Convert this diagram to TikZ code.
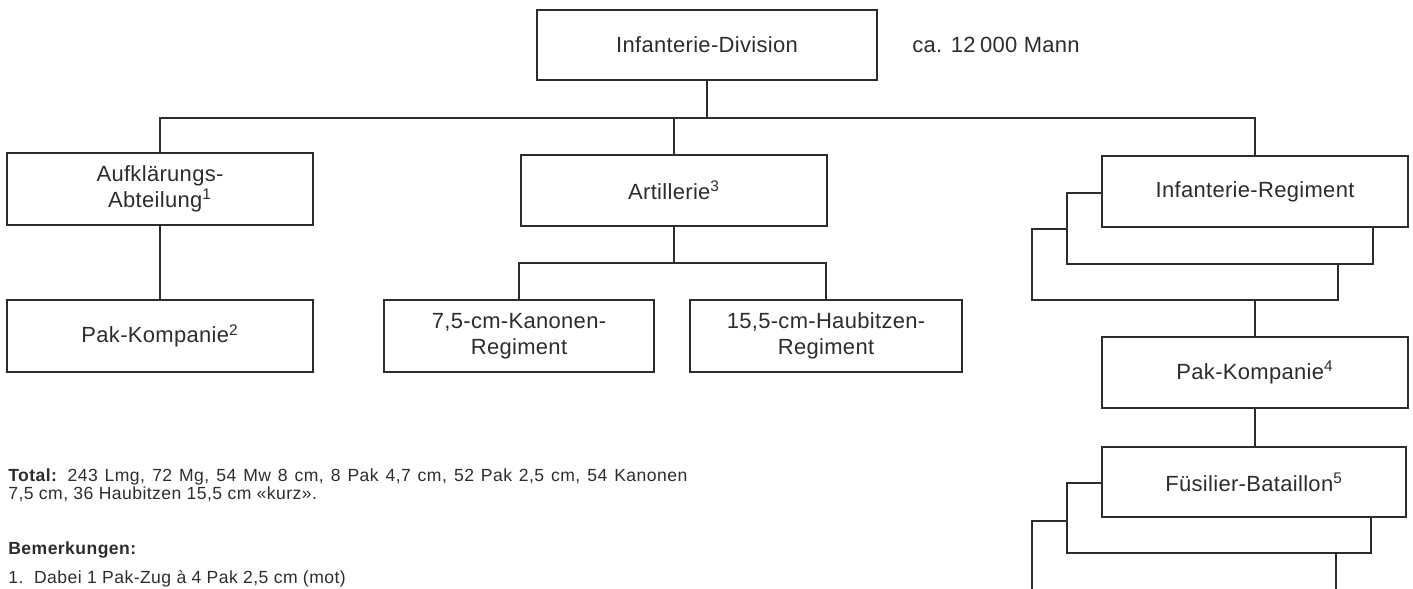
\documentclass[tikz,border=0pt]{standalone}
\usepackage{fontspec}
\setmainfont{Liberation Sans}
\definecolor{ink}{RGB}{45,45,45}
\newcommand{\boxfont}{\fontsize{12.5}{14.6}\selectfont\addfontfeature{LetterSpace=1.5}}
\newcommand{\remfont}{\fontsize{10}{10.4}\selectfont\addfontfeature{LetterSpace=2.5}}

\begin{document}
\begin{tikzpicture}[
    box/.style={draw=ink, line width=1.1pt, fill=white, text=ink, minimum width=6.12cm, minimum height=1.42cm, align=center, inner sep=0pt, font=\boxfont},
    link/.style={draw=ink, line width=1.1pt},
    rem/.style={font=\remfont, text=ink, inner sep=0pt},
]
\useasboundingbox (0,0) rectangle (28.26,11.78);

\node[box, minimum width=6.8cm, minimum height=1.4cm] (div) at (14.14, 10.88) {Infanterie-Division};
\node[rem, font=\boxfont, anchor=west] (mann) at (18.24, 10.88) {ca. 12\hspace{0.2em}000 Mann};

\node[box, minimum height=1.44cm] (aufkl) at ( 3.20, 8.00) {Aufklärungs-\\Abteilung\textsuperscript{1}};
\node[box] (art)  at (13.48, 7.97) {Artillerie\textsuperscript{3}};
\node[box, minimum height=1.44cm] (pak)  at ( 3.20, 5.06) {Pak-Kompanie\textsuperscript{2}};
\node[box, minimum width=5.40cm, minimum height=1.44cm] (kan)  at (10.38, 5.06) {7,5-cm-Kanonen-\\Regiment};
\node[box, minimum width=5.44cm, minimum height=1.44cm] (hau)  at (16.52, 5.06) {15,5-cm-Haubitzen-\\Regiment};

% regiment, three deep
\node[box] (infc) at (23.70, 6.49) {};
\node[box] (infb) at (24.40, 7.21) {};
\node[box] (inf)  at (25.10, 7.95) {Infanterie-Regiment};
\node[box] (pakr) at (25.10, 4.33) {Pak-Kompanie\textsuperscript{4}};

% battalion, three deep
\node[box, minimum width=6.08cm, minimum height=1.40cm] (fusc) at (23.68, 0.66) {};
\node[box, minimum width=6.08cm, minimum height=1.40cm] (fusb) at (24.38, 1.42) {};
\node[box, minimum width=6.08cm, minimum height=1.40cm] (fus)  at (25.08, 2.14) {Füsilier-Bataillon\textsuperscript{5}};

\coordinate (bus)    at (14.14, 9.42);
\coordinate (artbus) at (13.48, 6.52);

% Division -> first level
\draw[link] (div) -- (bus);
\draw[link] (aufkl.north) |- (bus) -| (inf.north);
\draw[link] (art.north) -- (art.north |- bus);

% Artillerie -> regiments
\draw[link] (art) -- (artbus);
\draw[link] (kan.north) |- (artbus) -| (hau.north);

% Aufklaerung -> Pak
\draw[link] (aufkl) -- (pak);

% Regiment -> Pak -> Bataillon
\draw[link] (pakr.north |- infc.south) -- (pakr.north);
\draw[link] (pakr) -- (pakr |- fus.north);

% totals and remarks
\node[rem, anchor=north west, text width=13.58cm, align=justify] (total) at (0.16, 2.42)
    {\textbf{Total:} 243 Lmg, 72 Mg, 54 Mw 8 cm, 8 Pak 4,7 cm, 52 Pak 2,5 cm, 54 Kanonen\linebreak
     7,5 cm, 36 Haubitzen 15,5 cm «kurz».};
\node[rem, anchor=base west] (bem) at (0.16, 0.68) {\textbf{Bemerkungen:}};
\node[rem, anchor=base west] (note1) at (0.16, 0.10) {1.\ \ Dabei 1 Pak-Zug à 4 Pak 2,5 cm (mot)};

\end{tikzpicture}
\end{document}
